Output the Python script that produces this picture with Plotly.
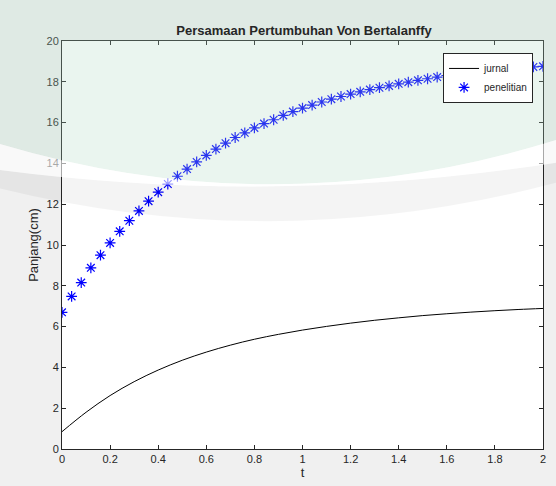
import plotly.graph_objects as go

# ---- data ----
t_pen = [round(0.04 * i, 2) for i in range(51)]
penelitian = [6.70, 7.48, 8.16, 8.88, 9.50, 10.10, 10.67, 11.19, 11.67, 12.15,
              12.59, 12.99, 13.37, 13.72, 14.07, 14.39, 14.70, 14.99, 15.27, 15.50,
              15.74, 15.95, 16.14, 16.35, 16.54, 16.71, 16.86, 17.01, 17.15, 17.28,
              17.40, 17.51, 17.62, 17.71, 17.80, 17.90, 17.98, 18.07, 18.15, 18.23,
              18.31, 18.37, 18.43, 18.49, 18.54, 18.59, 18.63, 18.67, 18.70, 18.73, 18.76]
t_jur = [round(0.1 * i, 1) for i in range(21)]
jurnal = [0.85, 1.80, 2.62, 3.30, 3.87, 4.35, 4.75, 5.09, 5.38, 5.62,
          5.83, 6.01, 6.17, 6.31, 6.43, 6.54, 6.63, 6.71, 6.78, 6.84, 6.89]
x_ticks = [0, 0.2, 0.4, 0.6, 0.8, 1, 1.2, 1.4, 1.6, 1.8, 2]
x_tick_labels = ["0", "0.2", "0.4", "0.6", "0.8", "1", "1.2", "1.4", "1.6", "1.8", "2"]
y_ticks = [0, 2, 4, 6, 8, 10, 12, 14, 16, 18, 20]

FONT = "Liberation Sans, Arial, sans-serif"
AX = "#262626"

# plot area in pixels (for placing paper-referenced items)
L, R, T, B = 62, 546, 41, 451
W, H = 556, 486


def px(xp):
    return (xp - L) / (R - L)


def py(yp):
    return (B - yp) / (B - T)


fig = go.Figure()
fig.add_trace(go.Scatter(x=t_jur, y=jurnal, mode="lines", name="jurnal",
                         line=dict(color="black", width=1, shape="spline")))
fig.add_trace(go.Scatter(x=t_pen, y=penelitian, mode="markers", name="penelitian",
                         marker=dict(symbol="asterisk-open", size=9, color="#0000ff",
                                     line=dict(color="#0000ff", width=1.2))))

axis_common = dict(showline=True, linecolor=AX, linewidth=1, mirror="ticks",
                   ticks="inside", ticklen=4, tickcolor=AX, showgrid=False,
                   zeroline=False, tickfont=dict(family=FONT, size=11, color=AX))

fig.update_layout(
    width=W, height=H,
    margin=dict(l=L, r=W - R, t=T, b=H - B),
    paper_bgcolor="#f0f0f0", plot_bgcolor="white",
    title=dict(text="<b>Persamaan Pertumbuhan Von Bertalanffy</b>",
               x=(L + R) / 2 / W, xanchor="center", y=1 - 30 / H, yanchor="middle",
               font=dict(family=FONT, size=13, color="#262626")),
    xaxis=dict(range=[0, 2], tickvals=x_ticks, ticktext=x_tick_labels,
               title=dict(text="t", font=dict(family=FONT, size=13, color=AX), standoff=2),
               **axis_common),
    yaxis=dict(range=[0, 20], tickvals=y_ticks,
               title=dict(text="Panjang(cm)", font=dict(family=FONT, size=13, color=AX), standoff=4),
               **axis_common),
    legend=dict(x=px(536), xanchor="right", y=py(53), yanchor="top",
                bgcolor="white", bordercolor="#262626", borderwidth=1,
                font=dict(family=FONT, size=10, color=AX),
                tracegroupgap=0, itemwidth=30),
    showlegend=True,
)

# faint library watermark in the upper part of the picture
x0, x1 = px(-5), px(W + 5)
xm = (x0 + x1) / 2
ytop = py(-5)
# green tinted area
g_l, g_c, g_r = py(143), py(185), py(140)
g_ctrl = 2 * g_c - (g_l + g_r) / 2
fig.add_shape(type="path", xref="paper", yref="paper", layer="above",
              path=f"M {x0} {ytop} L {x1} {ytop} L {x1} {g_r} Q {xm} {g_ctrl} {x0} {g_l} Z",
              fillcolor="rgba(170,215,190,0.25)", line=dict(width=0))
# gray arc band
u_l, u_c, u_r = py(170), py(187), py(163)
d_l, d_c, d_r = py(188), py(222), py(183)
u_ctrl = 2 * u_c - (u_l + u_r) / 2
d_ctrl = 2 * d_c - (d_l + d_r) / 2
fig.add_shape(type="path", xref="paper", yref="paper", layer="above",
              path=(f"M {x0} {u_l} Q {xm} {u_ctrl} {x1} {u_r} "
                    f"L {x1} {d_r} Q {xm} {d_ctrl} {x0} {d_l} Z"),
              fillcolor="rgba(0,0,0,0.045)", line=dict(width=0))
# lighter band between them
fig.add_shape(type="path", xref="paper", yref="paper", layer="above",
              path=(f"M {x0} {g_l} Q {xm} {g_ctrl} {x1} {g_r} "
                    f"L {x1} {u_r} Q {xm} {u_ctrl} {x0} {u_l} Z"),
              fillcolor="rgba(255,255,255,0.6)", line=dict(width=0))

fig.write_html("out.html")
